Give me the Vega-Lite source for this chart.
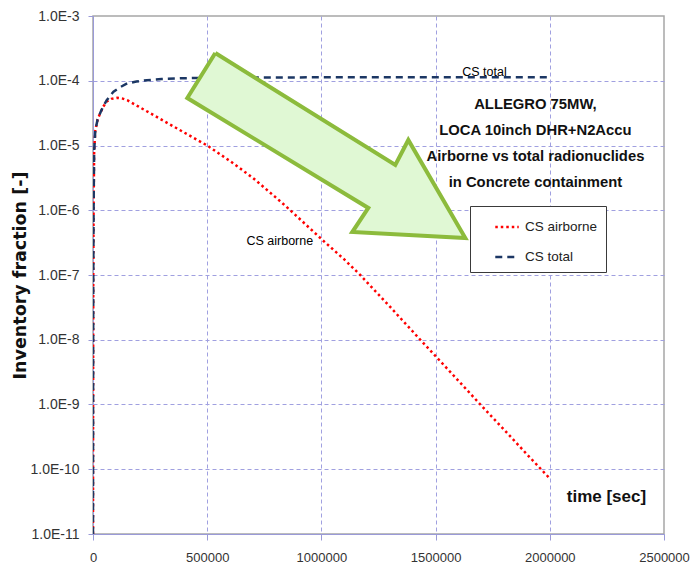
{
  "$schema": "https://vega.github.io/schema/vega-lite/v6.json",
  "width": 571,
  "height": 518,
  "autosize": {"type": "none"},
  "padding": {"left": 93, "top": 16, "right": 26, "bottom": 39},
  "background": "white",
  "config": {
    "view": {"stroke": "#a6a6a6", "strokeWidth": 1.5},
    "font": "Liberation Sans, Arial, sans-serif"
  },
  "datasets": {
    "curves": [
      {"t": 0, "v": 1e-11, "series": "CS airborne"},
      {"t": 400, "v": 1e-9, "series": "CS airborne"},
      {"t": 1200, "v": 1e-7, "series": "CS airborne"},
      {"t": 2500, "v": 1e-6, "series": "CS airborne"},
      {"t": 5000, "v": 8e-6, "series": "CS airborne"},
      {"t": 10000, "v": 1.7e-5, "series": "CS airborne"},
      {"t": 20000, "v": 2.5e-5, "series": "CS airborne"},
      {"t": 32000, "v": 3.2e-5, "series": "CS airborne"},
      {"t": 45000, "v": 4.0e-5, "series": "CS airborne"},
      {"t": 61000, "v": 4.8e-5, "series": "CS airborne"},
      {"t": 80000, "v": 5.25e-5, "series": "CS airborne"},
      {"t": 105000, "v": 5.45e-5, "series": "CS airborne"},
      {"t": 130000, "v": 5.3e-5, "series": "CS airborne"},
      {"t": 150000, "v": 5.0e-5, "series": "CS airborne"},
      {"t": 200000, "v": 3.98e-5, "series": "CS airborne"},
      {"t": 250000, "v": 3.16e-5, "series": "CS airborne"},
      {"t": 300000, "v": 2.51e-5, "series": "CS airborne"},
      {"t": 400000, "v": 1.58e-5, "series": "CS airborne"},
      {"t": 500000, "v": 1.0e-5, "series": "CS airborne"},
      {"t": 600000, "v": 5.75e-6, "series": "CS airborne"},
      {"t": 700000, "v": 3.16e-6, "series": "CS airborne"},
      {"t": 800000, "v": 1.58e-6, "series": "CS airborne"},
      {"t": 864000, "v": 1.0e-6, "series": "CS airborne"},
      {"t": 1000000, "v": 3.59e-7, "series": "CS airborne"},
      {"t": 1100000, "v": 1.74e-7, "series": "CS airborne"},
      {"t": 1170000, "v": 1.0e-7, "series": "CS airborne"},
      {"t": 1300000, "v": 3.24e-8, "series": "CS airborne"},
      {"t": 1433000, "v": 1.0e-8, "series": "CS airborne"},
      {"t": 1565000, "v": 3.16e-9, "series": "CS airborne"},
      {"t": 1696000, "v": 1.0e-9, "series": "CS airborne"},
      {"t": 1800000, "v": 4.07e-10, "series": "CS airborne"},
      {"t": 1900000, "v": 1.7e-10, "series": "CS airborne"},
      {"t": 2000000, "v": 7.2e-11, "series": "CS airborne"},
      {"t": 0, "v": 1e-11, "series": "CS total"},
      {"t": 400, "v": 1e-9, "series": "CS total"},
      {"t": 1200, "v": 1e-7, "series": "CS total"},
      {"t": 2500, "v": 1e-6, "series": "CS total"},
      {"t": 5000, "v": 8e-6, "series": "CS total"},
      {"t": 10000, "v": 1.7e-5, "series": "CS total"},
      {"t": 20000, "v": 2.5e-5, "series": "CS total"},
      {"t": 32000, "v": 3.2e-5, "series": "CS total"},
      {"t": 46000, "v": 4.1e-5, "series": "CS total"},
      {"t": 60000, "v": 5.0e-5, "series": "CS total"},
      {"t": 90000, "v": 6.8e-5, "series": "CS total"},
      {"t": 120000, "v": 8.0e-5, "series": "CS total"},
      {"t": 150000, "v": 9.1e-5, "series": "CS total"},
      {"t": 190000, "v": 9.7e-5, "series": "CS total"},
      {"t": 236000, "v": 1.02e-4, "series": "CS total"},
      {"t": 300000, "v": 1.06e-4, "series": "CS total"},
      {"t": 382000, "v": 1.09e-4, "series": "CS total"},
      {"t": 500000, "v": 1.11e-4, "series": "CS total"},
      {"t": 700000, "v": 1.12e-4, "series": "CS total"},
      {"t": 1000000, "v": 1.13e-4, "series": "CS total"},
      {"t": 1500000, "v": 1.13e-4, "series": "CS total"},
      {"t": 2000000, "v": 1.13e-4, "series": "CS total"}
    ],
    "arrow": [
      {"i": 1, "t": 535500, "v": 2.685e-4},
      {"i": 2, "t": 412900, "v": 5.42e-5},
      {"i": 3, "t": 1205400, "v": 1.084e-6},
      {"i": 4, "t": 1135300, "v": 4.61e-7},
      {"i": 5, "t": 1630000, "v": 3.72e-7},
      {"i": 6, "t": 1380500, "v": 1.216e-5},
      {"i": 7, "t": 1323600, "v": 5.0e-6},
      {"i": 8, "t": 535500, "v": 2.685e-4}
    ],
    "heading": [
      {"t": 1937000, "v": 4.22e-5, "label": "ALLEGRO 75MW,"},
      {"t": 1937000, "v": 1.675e-5, "label": "LOCA 10inch DHR+N2Accu"},
      {"t": 1937000, "v": 6.645e-6, "label": "Airborne vs total radionuclides"},
      {"t": 1937000, "v": 2.636e-6, "label": "in Concrete containment"}
    ],
    "notes": [
      {"t": 1714000, "v": 1.365e-4, "label": "CS total"},
      {"t": 818000, "v": 3.35e-7, "label": "CS airborne"}
    ],
    "xtitle": [
      {"t": 2248000, "v": 3.72e-11, "label": "time [sec]"}
    ]
  },
  "layer": [
    {
      "data": {"name": "curves"},
      "mark": {"type": "line", "strokeWidth": 2.5, "clip": true},
      "encoding": {
        "x": {
          "field": "t", "type": "quantitative",
          "scale": {"domain": [0, 2500000], "nice": false, "zero": false},
          "axis": {
            "title": null,
            "values": [0, 500000, 1000000, 1500000, 2000000, 2500000],
            "format": "d",
            "labelFontSize": 13,
            "labelColor": "#333333",
            "labelPadding": 11,
            "labelFlush": false,
            "tickSize": 6,
            "tickColor": "#9a9ad8",
            "domainColor": "#9a9ad8",
            "gridColor": "#a0a0e0",
            "gridDash": [4, 3],
            "gridOpacity": {"condition": {"test": "datum.value >= 2500000", "value": 0}, "value": 1}
          }
        },
        "y": {
          "field": "v", "type": "quantitative",
          "scale": {"type": "log", "domain": [1e-11, 0.001], "nice": false},
          "axis": {
            "title": "Inventory fraction [-]",
            "titleFont": "DejaVu Sans",
            "titleFontSize": 17.5,
            "titleFontWeight": "bold",
            "titleColor": "#111111",
            "titleX": -64,
            "values": [1e-11, 1e-10, 1e-9, 1e-8, 1e-7, 1e-6, 1e-5, 1e-4, 1e-3],
            "labelExpr": "'1.0E' + round(log(datum.value) / LN10)",
            "labelFontSize": 14,
            "labelColor": "#333333",
            "labelPadding": 9,
            "tickSize": 5,
            "tickColor": "#9a9ad8",
            "domainColor": "#9a9ad8",
            "gridColor": "#a0a0e0",
            "gridDash": [4, 3],
            "gridOpacity": {"condition": {"test": "datum.value >= 0.0009", "value": 0}, "value": 1}
          }
        },
        "color": {
          "field": "series", "type": "nominal",
          "scale": {"domain": ["CS airborne", "CS total"], "range": ["#ff0000", "#1c3764"]},
          "legend": {
            "title": null, "orient": "none", "legendX": 377, "legendY": 190,
            "padding": 8, "strokeColor": "#3a3a3a", "fillColor": "white",
            "symbolType": "stroke", "symbolSize": 550, "symbolStrokeWidth": 2.5,
            "symbolOffset": 16, "labelOffset": 5,
            "labelFont": "Liberation Sans", "labelFontSize": 13.5, "labelColor": "#222222",
            "rowPadding": 10
          }
        },
        "strokeDash": {
          "field": "series", "type": "nominal",
          "scale": {"domain": ["CS airborne", "CS total"], "range": [[2.5, 3], [7, 5]]},
          "legend": {
            "title": null, "orient": "none", "legendX": 377, "legendY": 190,
            "padding": 8, "strokeColor": "#3a3a3a", "fillColor": "white",
            "symbolType": "stroke", "symbolSize": 550, "symbolStrokeWidth": 2.5,
            "symbolOffset": 16, "labelOffset": 5,
            "labelFont": "Liberation Sans", "labelFontSize": 13.5, "labelColor": "#222222",
            "rowPadding": 10
          }
        }
      }
    },
    {
      "data": {"name": "arrow"},
      "mark": {"type": "line", "fill": "#e0f8d4", "stroke": "#8cbb3c", "strokeWidth": 4, "strokeJoin": "miter"},
      "encoding": {
        "x": {"field": "t", "type": "quantitative"},
        "y": {"field": "v", "type": "quantitative"},
        "order": {"field": "i", "type": "quantitative"}
      }
    },
    {
      "data": {"name": "heading"},
      "mark": {"type": "text", "font": "Liberation Sans", "fontSize": 14.8, "fontWeight": "bold", "color": "#111111", "align": "center", "baseline": "middle"},
      "encoding": {
        "x": {"field": "t", "type": "quantitative"},
        "y": {"field": "v", "type": "quantitative"},
        "text": {"field": "label"}
      }
    },
    {
      "data": {"name": "notes"},
      "mark": {"type": "text", "font": "Liberation Sans", "fontSize": 12.5, "color": "#000000", "align": "center", "baseline": "middle"},
      "encoding": {
        "x": {"field": "t", "type": "quantitative"},
        "y": {"field": "v", "type": "quantitative"},
        "text": {"field": "label"}
      }
    },
    {
      "data": {"name": "xtitle"},
      "mark": {"type": "text", "font": "Liberation Sans", "fontSize": 17, "fontWeight": "bold", "color": "#111111", "align": "center", "baseline": "middle"},
      "encoding": {
        "x": {"field": "t", "type": "quantitative"},
        "y": {"field": "v", "type": "quantitative"},
        "text": {"field": "label"}
      }
    }
  ]
}
